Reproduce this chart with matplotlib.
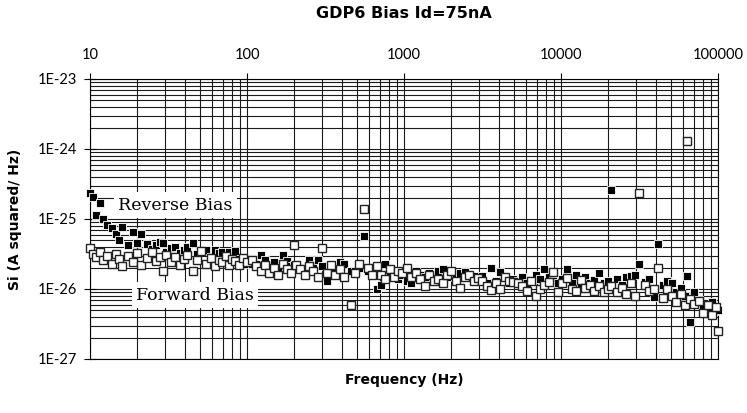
import matplotlib
matplotlib.use("Agg")
import matplotlib.pyplot as plt
from matplotlib.ticker import FixedLocator, FuncFormatter, NullFormatter
import numpy as np

# Frequency (Hz)
freq = [10, 10.45, 10.9, 11.6, 12.1, 12.8, 13.8, 14.6, 15.3, 16, 17.5, 18.8, 19.9, 21.1, 23.1,
        24.8, 26.3, 27.9, 29.2, 30.5, 32.8, 34.8, 37.5, 39.7, 41.5, 45.3, 48, 50.9, 54.7, 59,
        62.5, 66.3, 69.3, 73.5, 76.7, 80, 83.6, 88.8, 94.3, 100,
        107, 114, 122, 130, 139, 148, 158, 169, 180, 192, 199, 205, 219, 233, 249, 265, 283, 300,
        322, 343, 366, 390, 416, 459, 490, 520, 556, 590, 630, 670, 715, 760, 810, 865, 920, 975,
        1040, 1110, 1190, 1270, 1360, 1450, 1550, 1650, 1760, 1880, 2000, 2140, 2280, 2440, 2600,
        2780, 2960, 3160, 3370, 3600, 3840, 4100, 4380, 4670, 4980, 5320, 5680, 6060, 6460, 6900,
        7360, 7850, 8380, 8950, 9550,
        10200, 10900, 11700, 12500, 13400, 14300, 15300, 16300, 17500, 18700, 20000, 20800, 22800,
        24400, 26100, 27900, 29800, 31400, 34100, 36400, 38900, 41500, 44400, 47400, 50600, 54100,
        57800, 61700, 63500, 66000, 70400, 75200, 80400, 85900, 91800, 97000, 100000]

# Si in units of 1e-26 A^2/Hz
reverse_e26 = [23.5, 20.6, 11.4, 17, 10, 8.2, 7.4, 6.2, 5.0, 7.7, 4.3, 6.5, 4.6, 6.1, 4.4,
               3.7, 4.2, 4.7, 4.5, 3.4, 3.9, 4.0, 3.3, 3.6, 4.0, 4.6, 3.2, 3.5, 3.6, 2.9,
               3.6, 3.3, 3.4, 2.9, 3.4, 3.0, 3.5, 2.7, 2.6, 2.3,
               2.3, 2.3, 3.1, 2.6, 2.0, 2.4, 2.0, 3.1, 2.5, 2.1, 2.2, 1.9, 2.0, 1.9, 2.6, 2.2, 2.6, 2.1,
               1.3, 2.0, 1.8, 2.4, 2.3, 1.8, 1.8, 2.0, 5.7, 1.8, 1.7, 1.0, 1.15, 2.3, 1.5, 1.7, 1.4, 1.6,
               1.3, 1.2, 1.8, 1.6, 1.5, 1.7, 1.3, 1.8, 1.9, 1.5, 1.6, 1.4, 1.7, 1.75, 1.5,
               1.55, 1.4, 1.55, 1.2, 2.0, 1.3, 1.75, 1.5, 1.2, 1.4, 1.3, 1.5, 1.2, 1.35, 1.6,
               1.4, 1.9, 1.5, 1.3, 1.2,
               1.4, 1.9, 1.3, 1.6, 1.1, 1.5, 1.2, 1.35, 1.7, 1.2, 1.3, 26, 1.4,
               1.15, 1.5, 1.55, 1.6, 2.25, 1.25, 1.4, 0.77, 4.4, 1.15, 1.3, 1.2, 0.9,
               1.05, 0.8, 1.55, 0.34, 0.9, 0.7, 0.6, 0.55, 0.65, 0.48, 0.5]

forward_e26 = [3.9, 3.2, 2.9, 3.4, 2.6, 3.0, 2.3, 3.2, 2.7, 2.1, 3.0, 2.4, 3.3, 2.2, 2.8,
               3.4, 2.5, 2.9, 1.8, 3.1, 2.4, 2.9, 2.2, 2.7, 3.1, 1.8, 2.6, 3.5, 2.3, 2.8,
               2.1, 2.6, 2.4, 3.0, 2.2, 2.7, 2.5, 2.2, 2.8, 2.4,
               2.6, 2.1, 1.8, 2.2, 1.7, 2.0, 1.6, 2.3, 1.9, 1.7, 4.25, 2.2, 1.9, 1.6, 2.1, 1.8, 1.5, 3.8,
               1.7, 2.2, 1.6, 1.9, 1.5, 0.59, 1.7, 2.3, 13.9, 2.0, 1.6, 2.1, 1.6, 1.4, 1.9, 1.5, 1.8, 1.7,
               2.0, 1.5, 1.7, 1.4, 1.1, 1.6, 1.3, 1.4, 1.2, 1.6, 1.8, 1.3, 1.05, 1.5, 1.6,
               1.3, 1.45, 1.3, 1.1, 0.97, 1.2, 1.0, 1.5, 1.3, 1.25, 1.2, 1.1, 0.95, 1.3, 0.8,
               1.0, 1.15, 1.25, 1.75, 0.9,
               1.2, 1.45, 1.0, 0.95, 1.35, 1.05, 1.15, 0.95, 1.1, 0.9, 1.0, 1.1, 0.9,
               1.05, 0.85, 1.2, 0.8, 23.5, 1.15, 0.95, 1.0, 2.0, 0.75, 1.0, 0.8, 0.65,
               0.85, 0.6, 130, 0.72, 0.62, 0.68, 0.45, 0.6, 0.42, 0.55, 0.25]

x_ticks = [10, 100, 1000, 10000, 100000]
y_ticks = [1e-27, 1e-26, 1e-25, 1e-24, 1e-23]
title = "GDP6 Bias Id=75nA"
xlabel = "Frequency (Hz)"
ylabel = "Si (A squared/ Hz)"
label_rev = "Reverse Bias"
label_fwd = "Forward Bias"

unit = 1e-26
f = np.array(freq)
rev = np.array(reverse_e26) * unit
fwd = np.array(forward_e26) * unit

fig = plt.figure(figsize=(7.47, 4.13), dpi=100)
ax = fig.add_axes([90/747, 1 - 359/413, 628/747, 280/413])
ax.set_xscale('log')
ax.set_yscale('log')
ax.set_xlim(10, 100000)
ax.set_ylim(1e-27, 1e-23)

x_minor = [m * t for t in x_ticks[:-1] for m in range(2, 10)]
y_minor = [m * t for t in y_ticks[:-1] for m in range(2, 10)]
ax.xaxis.set_major_locator(FixedLocator(x_ticks))
ax.xaxis.set_minor_locator(FixedLocator(x_minor))
ax.yaxis.set_major_locator(FixedLocator(y_ticks))
ax.yaxis.set_minor_locator(FixedLocator(y_minor))
ax.xaxis.set_minor_formatter(NullFormatter())
ax.yaxis.set_minor_formatter(NullFormatter())
ax.xaxis.set_major_formatter(FuncFormatter(lambda v, p: f"{v:.0f}"))
ax.yaxis.set_major_formatter(FuncFormatter(lambda v, p: f"1E{int(round(np.log10(v)))}"))

ax.grid(True, which='both', color='#1a1a1a', linewidth=0.8)
ax.set_axisbelow(True)
for s in ax.spines.values():
    s.set_color('black')
    s.set_linewidth(0.8)

tickfont = 'Lato'
ax.xaxis.tick_top()
ax.tick_params(axis='x', which='major', direction='out', length=4, width=0.8, pad=8.5,
               labelsize=10.5, top=True, bottom=False)
ax.tick_params(axis='x', which='minor', length=0, top=False, bottom=False)
ax.tick_params(axis='y', which='major', direction='inout', length=8, width=0.8, pad=5,
               labelsize=10.5)
ax.tick_params(axis='y', which='minor', length=0)
for lab in ax.get_xticklabels() + ax.get_yticklabels():
    lab.set_fontfamily(tickfont)

bbox = dict(facecolor='white', edgecolor='none', pad=3)
ax.text(35, 1.58e-25, label_rev, family='DejaVu Serif', fontsize=12.5, ha='center', va='center',
        bbox=bbox, zorder=3)
ax.text(46.4, 8.2e-27, label_fwd, family='DejaVu Serif', fontsize=12.5, ha='center', va='center',
        bbox=bbox, zorder=3)

ax.plot(f, rev, linestyle='none', marker='s', markersize=5.5, markerfacecolor='black',
        markeredgecolor='white', markeredgewidth=0.6, zorder=4, clip_on=False)
ax.plot(f, fwd, linestyle='none', marker='s', markersize=6, markerfacecolor='white',
        markeredgecolor='#222222', markeredgewidth=1.0, zorder=5, clip_on=False)

fig.text(404/747, 1 - 14/413, title, ha='center', va='center', fontsize=11.5, fontweight='bold',
         family='DejaVu Sans')
fig.text(404/747, 1 - 380/413, xlabel, ha='center', va='center', fontsize=10, fontweight='bold',
         family='DejaVu Sans')
fig.text(15/747, 1 - 219/413, ylabel, ha='center', va='center', rotation=90, fontsize=10,
         fontweight='bold', family='DejaVu Sans')

fig.savefig('out.png', dpi=100, facecolor='white')
